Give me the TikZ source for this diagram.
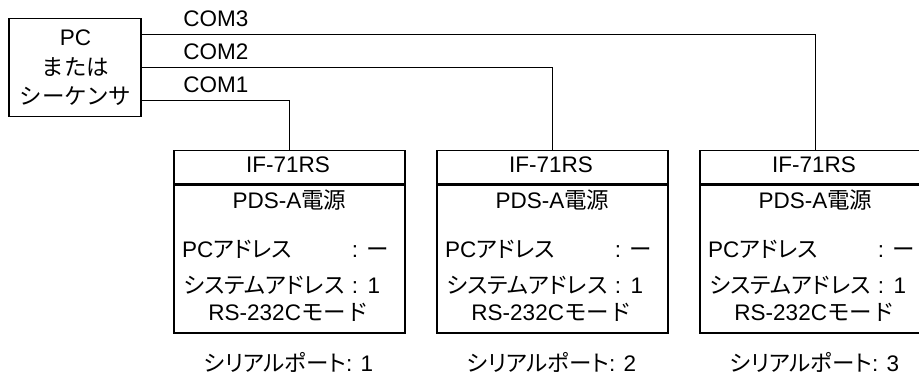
\documentclass[tikz,border=0pt]{standalone}
\usepackage{fontspec}
\setmainfont{Liberation Sans}
\newfontfamily\jpfont{Noto Sans CJK JP}
\newfontfamily\jppfont[RawFeature=+palt]{Noto Sans CJK JP}
\newcommand{\jp}[1]{{\jpfont #1}}
\newcommand{\jpp}[1]{{\jppfont #1}}
\usetikzlibrary{calc}
\tikzset{
  lbl/.style={inner sep=0pt, font=\fontsize{22.5}{26}\selectfont},
  boxnode/.style={draw, line width=1.3pt, inner sep=0pt},
  wire/.style={line width=1.3pt}
}
\begin{document}
\begin{tikzpicture}[x=1pt,y=-1pt]
\useasboundingbox (0,0) rectangle (919,377);
\clip (0,0) rectangle (919,377);
% PC box
\node[boxnode, minimum width=132pt, minimum height=98pt] (pc) at (75,67.5) {};
\node[lbl, anchor=base] (pc1) at (75.5,46) {PC};
\node[lbl, anchor=base] (pc2) at (75.5,75.5) {\jp{または}};
\node[lbl, anchor=base] (pc3) at (75.5,105) {\jp{シーケンサ}};
% devices
\foreach \i/\cx/\n in {1/289.5/1, 2/552.5/2, 3/815.5/3}{
  \node[boxnode, anchor=north, minimum width=231pt, minimum height=33pt] (h\i) at (\cx,150) {};
  \node[boxnode, anchor=north, minimum width=231pt, minimum height=148pt] (b\i) at (h\i.south) {};
  \node[lbl, anchor=base] (ta\i) at (\cx-1.5,172.5) {IF-71RS};
  \node[lbl, anchor=base] (tb\i) at (\cx,208.5) {PDS-A\jp{電源}};
  \node[lbl, anchor=base west] (tc\i) at (\cx-107.5,257.5) {PC\jpp{アドレス}};
  \node[lbl, anchor=base] (tcc\i) at (\cx+65.5,257.5) {:};
  \node[lbl, anchor=base west] (tcv\i) at (\cx+77,257.5) {\jp{ー}};
  \node[lbl, anchor=base west] (td\i) at (\cx-106,293.5) {\jpp{システムアドレス}};
  \node[lbl, anchor=base] (tdc\i) at (\cx+65.5,293.5) {:};
  \node[lbl, anchor=base west] (tdv\i) at (\cx+78,293.5) {1};
  \node[lbl, anchor=base] (te\i) at (\cx-1,320) {RS-232C\jp{モード}};
  \node[lbl, anchor=base] (tf\i) at (\cx-1,371.5) {\jpp{シリアルポート}: \n};
}
% connectors
\draw[wire] ([yshift=33pt]pc.east) -| (h3.north);
\draw[wire] (pc.east) -| (h2.north);
\draw[wire] ([yshift=-33pt]pc.east) -| (h1.north);
% labels
\node[lbl, anchor=base west] (com3) at ([xshift=41.5pt,yshift=41pt]pc.east) {COM3};
\node[lbl, anchor=base west] (com2) at ([xshift=41.5pt,yshift=8pt]pc.east) {COM2};
\node[lbl, anchor=base west] (com1) at ([xshift=41.5pt,yshift=-25pt]pc.east) {COM1};
\end{tikzpicture}
\end{document}
